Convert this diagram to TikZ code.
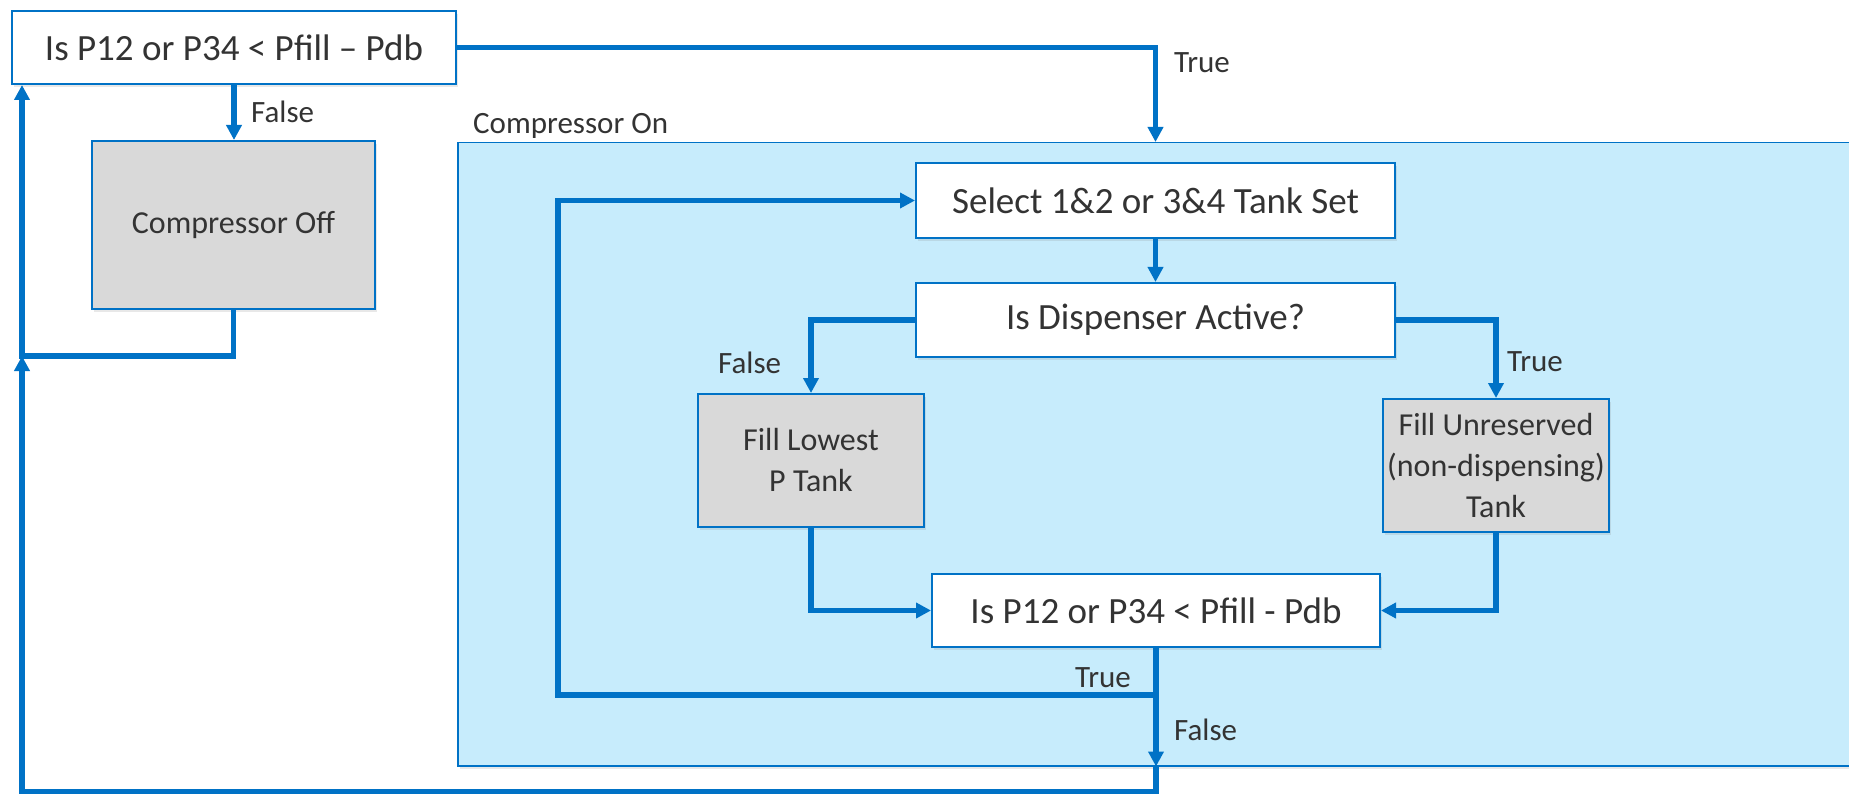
\documentclass[tikz,border=0pt]{standalone}
\usepackage{fontspec}
\setmainfont{Carlito}
\usetikzlibrary{arrows.meta,shadows}
\definecolor{lineblue}{RGB}{0,114,198}
\definecolor{areablue}{RGB}{199,236,252}
\definecolor{boxgray}{RGB}{217,217,217}
\definecolor{txt}{RGB}{51,51,51}
\tikzset{
  box/.style={draw=lineblue, line width=2pt, fill=white, text=txt, inner sep=0pt, align=center,
    font=\fontsize{37}{44}\selectfont,
    drop shadow={opacity=0.18, shadow xshift=2pt, shadow yshift=-3pt}},
  graybox/.style={box, fill=boxgray, font=\fontsize{32}{41}\selectfont},
  conn/.style={draw=lineblue, line width=5.5pt, -{Triangle[length=15pt,width=15pt]}},
  lbl/.style={text=txt, font=\fontsize{31}{36}\selectfont, inner sep=0pt},
}
\begin{document}
\begin{tikzpicture}[x=1pt,y=-1pt]
\useasboundingbox (0,0) rectangle (1849,794);
\fill[white] (0,0) rectangle (1849,794);

% Compressor On area
\node[draw=lineblue, line width=1.5pt, fill=areablue, minimum width=1420pt, minimum height=623pt,
      anchor=north west, inner sep=0pt,
      drop shadow={opacity=0.18, shadow xshift=2pt, shadow yshift=-3pt}] (on) at (457,142) {};
\node[lbl, anchor=west] (onlbl) at (473,126) {Compressor On};

% boxes
\node[box, minimum width=444pt, minimum height=73pt] (top) at (234,47.5) {Is P12 or P34 < Pfill – Pdb};
\node[graybox, minimum width=283pt, minimum height=168pt] (off) at (233.5,225) {Compressor Off};
\node[box, minimum width=479pt, minimum height=75pt] (sel) at (1155.5,200.5) {Select 1\&2 or 3\&4 Tank Set};
\node[box, minimum width=479pt, minimum height=74pt] (disp) at (1155.5,320) {Is Dispenser Active?};
\node[graybox, minimum width=226pt, minimum height=133pt] (low) at (811,460.5) {Fill Lowest\\P Tank};
\node[graybox, minimum width=226pt, minimum height=133pt] (unres) at (1496,465.5) {Fill Unreserved\\(non-dispensing)\\Tank};
\node[box, minimum width=448pt, minimum height=73pt] (dec) at (1156,610.5) {Is P12 or P34 < Pfill - Pdb};

% helper coordinates
\coordinate (loopA) at (22,356);
\coordinate (loopB) at (22,792);
\coordinate (tb) at (1156,695);
\coordinate (inL) at (558,695);

% connectors
\draw[conn] (top.east) -| (sel.center |- on.north);
\draw[conn] (top.south) -- (top.south |- off.north);
\draw[conn] (off.south) |- (loopA) -- (loopA |- top.south);
\draw[conn] (sel.south) -- (disp.north);
\draw[conn] (disp.west) -| (low.north);
\draw[conn] (disp.east) -| (unres.north);
\draw[conn] (low.south) |- (dec.west);
\draw[conn] (unres.south) |- (dec.east);
\draw[conn] (tb) -- (inL) |- (sel.west);
\draw[conn] (dec.south) -- (dec.south |- on.south);
\draw[conn] (dec.south |- on.south) -- (dec.south |- loopB) -- (loopB) -- (loopA);

% labels
\node[lbl, anchor=west] (l1) at (251,112) {False};
\node[lbl, anchor=west] (l2) at (1174,63) {True};
\node[lbl, anchor=west] (l3) at (718,363) {False};
\node[lbl, anchor=west] (l4) at (1507,362) {True};
\node[lbl, anchor=west] (l5) at (1075,678) {True};
\node[lbl, anchor=west] (l6) at (1174,730) {False};
\end{tikzpicture}
\end{document}
